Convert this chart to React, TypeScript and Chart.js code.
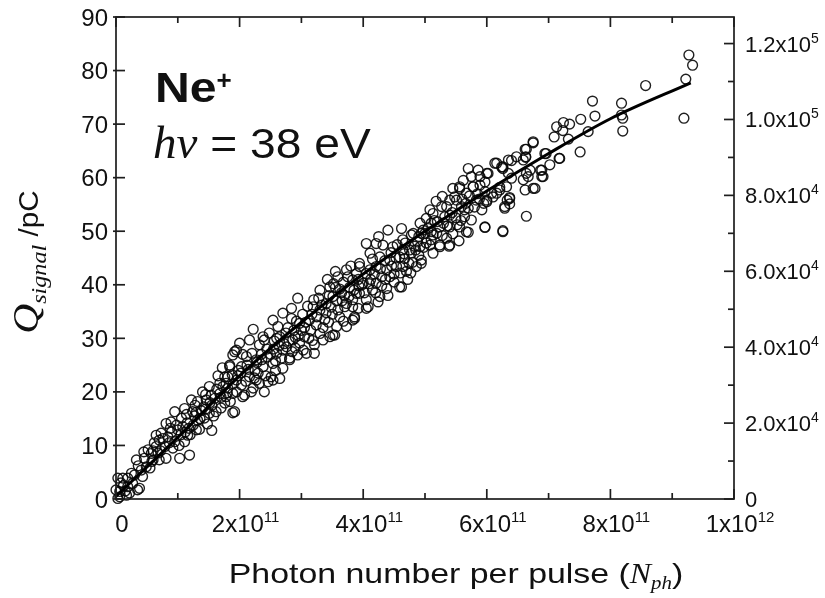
import React, { useEffect, useRef } from "react";
import { Chart, registerables } from "chart.js";
Chart.register(...registerables);

// x values are in units of 1e11 photons
const xMajorTicks = [0, 2, 4, 6, 8, 10];
const xMinorTicks = [1, 3, 5, 7, 9];
const xTickLabels: [string, string][] = [
  ["0", ""], ["2x10", "11"], ["4x10", "11"], ["6x10", "11"], ["8x10", "11"], ["1x10", "12"],
];
const yTicks = [0, 10, 20, 30, 40, 50, 60, 70, 80, 90];
const yTickLabels = ["0", "10", "20", "30", "40", "50", "60", "70", "80", "90"];
const y2MajorTicks = [0, 20000, 40000, 60000, 80000, 100000, 120000];
const y2MinorTicks = [10000, 30000, 50000, 70000, 90000, 110000];
const y2TickLabels: [string, string][] = [
  ["0", ""], ["2.0x10", "4"], ["4.0x10", "4"], ["6.0x10", "4"], ["8.0x10", "4"], ["1.0x10", "5"], ["1.2x10", "5"],
];

// fitted curve
const fitX = [0, 1, 2, 3, 4, 5, 6, 7, 8, 9.3];
const fitY = [0.5, 11.5, 23, 33, 42, 50, 57.5, 64.5, 71, 77.7];

// measured points [Nph (1e11), Q (pC)]
const pointsLow: [number, number][] = [
  [0.00,1.7],[0.03,3.9],[0.11,3.9],[0.19,3.9],[0.06,0.4],[0.17,0.7],[0.19,2.3],[0.27,2.9],[0.38,2.0],[0.30,4.5],
  [0.33,7.3],[0.41,5.4],[0.46,7.6],[0.49,6.0],[0.43,4.2],[0.57,8.5],[0.60,7.3],[0.65,9.8],[0.70,11.0],[0.73,12.3],
  [0.81,14.1],[0.89,14.4],[0.84,11.6],[0.79,9.8],[0.70,7.3],[0.81,7.6],[0.95,10.7],[0.76,11.3],[0.65,11.9],[0.22,1.1],
  [0.35,1.7],[0.03,0.1],[0.06,1.4],[0.12,2.5],[0.25,4.8],[0.52,9.2],[0.62,10.5],[0.90,12.5],[0.55,5.8],[0.08,3.0],
  [0.15,1.5],[0.45,8.8],[0.36,6.2],[0.98,13.8],[0.68,8.6],
  [1.03,7.6],[1.19,8.2],[1.11,10.7],[1.16,11.9],[1.00,12.9],[1.06,15.1],[0.95,16.3],[1.11,16.9],[1.24,16.3],[1.22,18.5],
  [1.32,18.2],[1.46,18.5],[1.32,14.7],[1.43,15.1],[1.30,12.9],[1.51,16.0],[1.62,16.3],[1.54,19.4],[1.68,19.7],[1.76,17.9],
  [1.92,16.3],[1.81,20.7],[1.95,20.0],[1.81,22.8],[1.68,21.6],[1.51,21.0],[1.89,16.1],[1.78,21.6],[1.84,25.0],[1.92,27.5],
  [1.73,21.0],[1.78,19.1],[1.89,19.7],[1.95,22.2],[1.76,22.8],[1.84,24.7],[1.89,26.9],[1.95,27.8],[1.08,13.5],[1.15,14.2],
  [1.25,13.8],[1.38,16.5],[1.42,17.2],[1.55,17.5],[1.60,18.8],[1.20,12.0],[1.35,13.0],[1.48,14.0],[1.58,15.5],[1.70,17.0],
  [1.85,18.2],[1.02,10.0],[1.28,17.5],[1.65,23.0],[1.72,24.5],[1.40,20.0],[1.98,24.0],[1.88,23.2],[1.55,12.8],[1.12,12.5],
  [0.58,7.0],[0.72,9.0],[0.86,10.5],[0.92,9.5],[1.05,12.0],[1.18,13.2],[1.27,15.5],[1.36,15.0],[1.45,16.8],[1.52,18.0],
  [1.63,20.5],[1.70,19.0],[1.80,19.8],[1.90,21.5],[1.97,23.0],[1.45,19.5],[1.30,16.2],[1.14,15.8],[0.88,13.2],[0.60,9.0],
];
const pointsMid: [number, number][] = [
  [2.22,31.7],[2.70,34.7],[2.94,37.5],[2.51,22.8],[2.68,26.3],[2.54,25.3],[2.38,24.7],[2.27,26.0],[2.11,26.6],[2.03,24.7],
  [2.16,22.8],[2.32,21.6],[2.54,22.2],[2.40,20.0],[2.19,20.0],[2.05,19.1],[2.54,33.4],[2.65,30.3],[2.84,33.7],[2.97,32.8],
  [2.86,29.7],[2.76,28.4],[2.32,28.8],[2.38,30.3],[2.16,29.7],[2.00,29.1],[2.70,24.4],[2.46,21.9],[2.97,29.1],[2.81,26.3],
  [2.22,20.7],[2.27,22.2],[2.81,26.0],[2.94,26.9],[2.40,29.7],[2.08,19.4],[2.03,21.3],[2.12,25.0],[2.25,24.0],[2.45,26.5],
  [2.55,28.0],[2.60,27.2],[2.75,31.0],[2.88,31.5],[2.90,28.2],[2.35,27.0],[2.48,31.0],[2.62,32.2],[2.78,32.0],[2.10,22.0],
  [2.30,23.5],[2.58,24.0],[2.65,22.5],[2.85,27.5],[2.95,30.5],[2.05,27.0],[2.42,23.0],[2.60,30.0],[2.72,29.0],
  [3.30,39.0],[3.46,39.6],[3.59,41.5],[3.73,42.8],[3.83,33.4],[4.05,35.6],[3.92,35.6],[3.94,38.4],[3.83,37.2],[3.73,36.5],
  [3.54,30.6],[3.46,30.3],[3.30,30.9],[3.21,28.8],[3.03,27.8],[3.13,33.4],[3.19,35.9],[3.30,35.3],[3.40,36.5],[3.51,37.8],
  [3.59,35.3],[3.05,30.3],[3.57,32.2],[3.73,32.2],[3.83,40.9],[3.94,43.4],[3.08,27.2],[3.21,27.2],[3.35,29.7],[3.51,30.6],
  [3.86,33.7],[3.70,35.9],[3.94,44.0],[3.89,42.1],[3.89,38.4],[3.83,35.9],[3.86,34.0],[3.10,36.0],[3.15,31.5],[3.25,34.0],
  [3.38,33.5],[3.45,38.0],[3.55,39.5],[3.65,38.5],[3.68,40.5],[3.78,39.5],[3.02,34.5],[3.20,37.2],[3.35,32.0],[3.62,34.0],
  [3.75,41.5],[3.98,40.0],[3.42,41.0],[3.12,30.0],[3.28,37.5],[3.50,34.5],[3.66,37.0],[3.80,43.5],[3.92,41.0],[3.05,32.0],
  [3.55,42.5],
  [2.02,23.5],[2.14,24.2],[2.20,27.2],[2.28,25.5],[2.36,26.0],[2.44,28.0],[2.50,27.0],[2.56,29.5],[2.64,28.6],[2.70,27.8],
  [2.80,29.5],[2.92,33.2],[3.00,31.5],[3.07,33.0],[3.17,34.5],[3.24,32.5],[3.33,36.2],[3.40,34.8],[3.48,35.8],[3.57,37.0],
  [3.62,39.2],[3.70,38.0],[3.77,37.8],[3.85,39.0],[3.93,39.8],[2.58,25.8],[2.90,30.2],[3.18,29.6],[3.44,33.0],[3.68,33.2],
  [2.24,22.6],[2.84,35.6],[3.52,40.2],
];
const pointsHigh: [number, number][] = [
  [4.05,42.1],[4.08,35.9],[4.24,36.8],[4.62,39.6],[4.81,49.6],[4.92,47.1],[4.78,45.9],[4.94,44.0],[4.67,44.9],[4.64,43.4],
  [4.86,43.4],[4.97,50.2],[4.92,51.5],[4.94,49.6],[4.94,44.6],[4.78,49.3],[4.64,48.4],[4.40,50.2],[4.75,46.5],[4.64,46.5],
  [4.48,47.1],[4.32,47.4],[4.21,47.7],[4.05,47.7],[4.11,45.9],[4.27,45.2],[4.43,44.6],[4.59,45.2],[4.54,43.4],[4.38,42.8],
  [4.21,43.4],[4.11,42.8],[4.00,40.3],[4.21,40.3],[4.43,41.5],[4.59,39.6],[4.38,39.3],[4.27,37.8],[4.05,37.2],[4.15,39.0],
  [4.30,41.5],[4.50,42.0],[4.70,42.5],[4.85,46.5],[4.55,47.5],[4.35,44.5],[4.15,44.8],[4.45,46.0],[4.68,47.8],[4.88,48.0],
  [4.20,38.5],[4.50,40.5],[4.72,41.0],[4.90,45.5],[4.12,41.0],[4.62,50.5],[4.80,44.2],[4.25,49.0],[4.40,38.0],[4.98,47.0],
  [5.70,61.7],[5.86,61.4],[5.97,50.8],[5.70,49.8],[5.39,47.2],[5.24,47.4],[5.10,48.4],[5.13,45.9],[5.45,58.0],[5.56,58.0],
  [5.67,57.1],[5.78,58.3],[5.89,58.6],[5.97,59.2],[5.70,54.3],[5.64,52.7],[5.75,52.1],[5.40,53.0],[5.32,52.7],[5.24,50.8],
  [5.19,49.6],[5.10,51.5],[5.00,49.6],[5.51,55.8],[5.59,54.6],[5.27,54.6],[5.13,53.3],[5.83,55.8],[5.75,60.2],[5.89,60.2],
  [5.56,58.3],[5.48,56.4],[5.78,58.3],[5.97,57.4],[5.67,49.9],[5.97,50.7],[5.64,54.0],[5.40,55.8],[5.08,54.0],[5.02,52.4],
  [5.40,50.8],[5.56,50.8],[5.13,49.3],[5.35,48.7],[5.24,47.1],[5.40,47.4],[5.08,47.4],[5.35,54.6],[5.30,51.5],[5.50,52.5],
  [5.60,56.0],[5.05,50.5],[5.45,49.5],[5.15,52.0],[5.85,57.0],[5.92,54.0],[5.62,59.5],[5.28,56.5],
  [4.02,38.5],[4.10,40.2],[4.18,42.0],[4.28,43.0],[4.36,41.0],[4.46,43.5],[4.53,45.0],[4.60,42.2],[4.66,45.8],[4.74,44.0],
  [4.83,47.2],[4.90,49.0],[5.02,47.8],[5.10,49.9],[5.20,51.8],[5.28,49.2],[5.36,51.0],[5.44,53.5],[5.52,51.2],[5.58,52.0],
  [5.66,55.2],[5.72,56.6],[5.80,54.5],[5.88,56.0],[5.95,55.2],[4.30,39.8],[4.77,42.2],[5.18,55.6],[5.55,48.2],
];
const pointsTop: [number, number][] = [
  [6.13,62.7],[6.26,61.7],[6.40,63.2],[6.48,63.9],[6.62,65.3],[6.75,66.5],[6.63,63.9],[6.62,57.7],[6.64,52.8],[6.26,49.9],
  [6.29,54.3],[6.33,55.8],[6.21,58.2],[6.32,58.3],[6.59,59.6],[6.64,60.8],[6.78,58.0],[6.89,61.4],[6.91,60.2],[6.94,64.5],
  [6.16,62.7],[6.26,62.0],[6.00,60.8],[6.37,56.1],[6.29,54.6],[6.00,55.5],[6.26,50.1],[6.10,56.4],[6.00,55.8],[6.02,60.8],
  [6.75,66.7],[6.96,64.5],[6.64,65.3],[6.63,63.8],[6.89,60.2],[6.75,58.0],[6.37,56.3],[6.37,55.1],[6.67,60.2],[6.70,61.4],
  [6.87,61.4],[6.59,63.3],[6.35,63.3],[6.24,62.0],[6.35,60.8],[6.21,57.7],[6.16,57.1],[6.40,59.9],[6.08,57.1],
  [7.02,62.4],[7.17,63.6],[7.32,67.2],[7.23,68.8],[7.09,67.6],[7.13,69.5],[7.24,70.3],[7.34,70.0],[7.52,70.9],[7.51,64.8],
  [7.64,68.6],[7.71,74.3],[7.75,71.5],[8.18,73.9],[8.18,71.7],[8.20,71.1],[8.20,68.7],[8.57,77.2],[9.19,71.1],[9.22,78.4],
  [9.27,82.9],[9.33,81.0],[7.18,63.6],
];

const SANS = "'Liberation Sans', Arial, sans-serif";
const SERIF = "'Liberation Serif', 'Times New Roman', serif";
const INK = "#111111";

type Part = { t: string; font: string; dy?: number; sx?: number };

function drawRich(ctx: CanvasRenderingContext2D, parts: Part[], x: number, y: number, align: "left" | "center" | "right") {
  const widths = parts.map((p) => {
    ctx.font = p.font;
    return ctx.measureText(p.t).width * (p.sx ?? 1);
  });
  const total = widths.reduce((a, b) => a + b, 0);
  let cx = align === "left" ? x : align === "center" ? x - total / 2 : x - total;
  parts.forEach((p, i) => {
    ctx.save();
    ctx.font = p.font;
    ctx.translate(cx, y + (p.dy ?? 0));
    ctx.scale(p.sx ?? 1, 1);
    ctx.fillText(p.t, 0, 0);
    ctx.restore();
    cx += widths[i];
  });
}

const axesPlugin = {
  id: "paperAxes",
  afterDatasetsDraw(chart: any) {
    const { ctx, chartArea: a, scales } = chart;
    const xs = scales.x, ys = scales.y, y2s = scales.y2;
    ctx.save();
    ctx.strokeStyle = "#1e1e1e";
    ctx.lineWidth = 1.7;
    ctx.strokeRect(a.left, a.top, a.right - a.left, a.bottom - a.top);
    const seg = (x1: number, y1: number, x2: number, y2: number) => {
      ctx.beginPath(); ctx.moveTo(x1, y1); ctx.lineTo(x2, y2); ctx.stroke();
    };
    const MAJ = 10, MIN = 6;
    xMajorTicks.forEach((v) => {
      const px = xs.getPixelForValue(v);
      seg(px, a.bottom, px, a.bottom - MAJ);
      seg(px, a.top, px, a.top + MAJ);
    });
    xMinorTicks.forEach((v) => {
      const px = xs.getPixelForValue(v);
      seg(px, a.bottom, px, a.bottom - MIN);
      seg(px, a.top, px, a.top + MIN);
    });
    yTicks.forEach((v) => {
      const py = ys.getPixelForValue(v);
      seg(a.left - 3, py, a.left + MAJ - 1, py);
    });
    y2MajorTicks.forEach((v) => {
      const py = y2s.getPixelForValue(v);
      seg(a.right, py, a.right - MAJ, py);
    });
    y2MinorTicks.forEach((v) => {
      const py = y2s.getPixelForValue(v);
      seg(a.right, py, a.right - MIN, py);
    });

    ctx.fillStyle = INK;
    ctx.textBaseline = "alphabetic";
    const tickFont = `24px ${SANS}`;
    const supFont = `15px ${SANS}`;
    yTicks.forEach((v, i) => {
      const py = ys.getPixelForValue(v);
      drawRich(ctx, [{ t: yTickLabels[i], font: tickFont }], a.left - 8, py + 8.5, "right");
    });
    y2MajorTicks.forEach((v, i) => {
      const py = y2s.getPixelForValue(v);
      const [b, e] = y2TickLabels[i];
      drawRich(ctx, [{ t: b, font: `22px ${SANS}` }, { t: e, font: `14px ${SANS}`, dy: -9 }], a.right + 11, py + 8, "left");
    });
    xMajorTicks.forEach((v, i) => {
      const px = xs.getPixelForValue(v);
      const [b, e] = xTickLabels[i];
      drawRich(ctx, [{ t: b, font: tickFont }, { t: e, font: supFont, dy: -10 }], px + 6, a.bottom + 33, "center");
    });

    // x title
    drawRich(ctx, [
      { t: "Photon number per pulse (", font: `28px ${SANS}`, sx: 1.21 },
      { t: "N", font: `italic 29px ${SERIF}`, sx: 1.1 },
      { t: "ph", font: `italic 19px ${SERIF}`, dy: 6, sx: 1.1 },
      { t: ")", font: `28px ${SANS}`, sx: 1.21 },
    ], 456, 583, "center");

    // y title (rotated)
    ctx.save();
    ctx.translate(38, 262);
    ctx.rotate(-Math.PI / 2);
    drawRich(ctx, [
      { t: "Q", font: `italic 36px ${SERIF}`, sx: 1.15 },
      { t: "signal", font: `italic 22px ${SERIF}`, dy: 8, sx: 1.1 },
      { t: " /pC", font: `27px ${SANS}`, sx: 1.1 },
    ], 0, 0, "center");
    ctx.restore();

    // annotations
    drawRich(ctx, [
      { t: "Ne", font: `bold 43px ${SANS}`, sx: 1.12 },
      { t: "+", font: `bold 26px ${SANS}`, dy: -13, sx: 1.0 },
    ], 155, 102, "left");
    drawRich(ctx, [
      { t: "h", font: `italic 47px ${SERIF}` },
      { t: "ν", font: `italic 47px ${SERIF}` },
      { t: " = 38 eV", font: `42px ${SANS}`, sx: 1.1 },
    ], 153, 158, "left");
    ctx.restore();
  },
};

export default function App() {
  const ref = useRef<HTMLCanvasElement | null>(null);
  useEffect(() => {
    if (!ref.current) return;
    const scatter = [...pointsLow, ...pointsMid, ...pointsHigh, ...pointsTop].map(([x, y]) => ({ x, y }));
    const fit = fitX.map((x, i) => ({ x, y: fitY[i] }));
    const chart = new Chart(ref.current, {
      type: "scatter",
      data: {
        datasets: [
          {
            type: "line",
            label: "fit",
            data: fit,
            borderColor: "#000",
            borderWidth: 3,
            pointRadius: 0,
            cubicInterpolationMode: "monotone",
            fill: false,
            yAxisID: "y",
          } as any,
          {
            type: "scatter",
            label: "Q_signal",
            data: scatter,
            pointRadius: 4.9,
            borderWidth: 1.4,
            borderColor: "rgba(8,8,8,0.9)",
            backgroundColor: "rgba(0,0,0,0)",
            clip: false,
            yAxisID: "y",
          } as any,
        ],
      },
      options: {
        responsive: false,
        animation: false,
        events: [],
        layout: { padding: { left: 116, top: 17, right: 91, bottom: 99 } },
        plugins: { legend: { display: false }, tooltip: { enabled: false } },
        scales: {
          x: { type: "linear", min: 0, max: 10, display: false },
          y: { type: "linear", min: 0, max: 90, display: false },
          y2: { type: "linear", position: "right", min: 0, max: 127000, display: false },
        },
      },
      plugins: [axesPlugin],
    });
    return () => chart.destroy();
  }, []);
  return (
    <div style={{ position: "fixed", left: 0, top: 0, width: 825, height: 598, background: "#fff" }}>
      <canvas ref={ref} width={825} height={598} style={{ display: "block" }} />
    </div>
  );
}
